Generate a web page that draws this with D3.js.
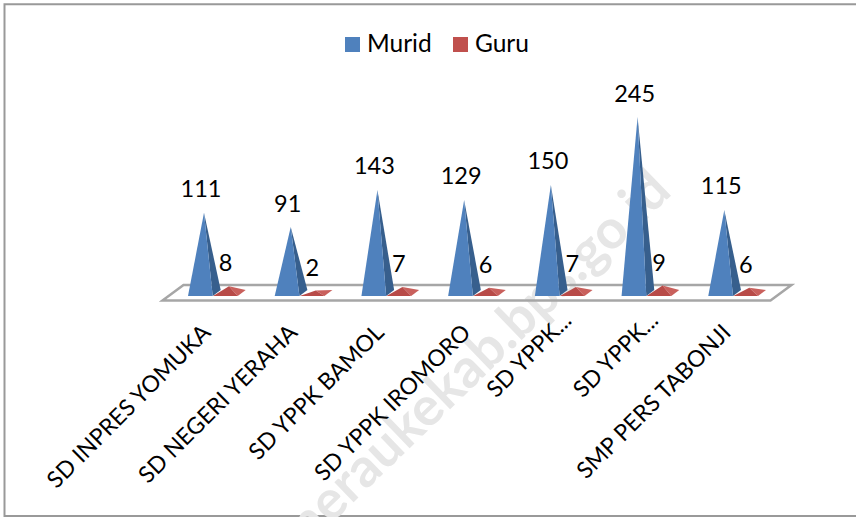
<!DOCTYPE html>
<html>
<head>
<meta charset="utf-8">
<script src="https://cdn.jsdelivr.net/npm/d3@7"></script>
<style>
body { margin: 0; background: #fff; overflow: hidden; }
text { font-family: Lato, "Open Sans", sans-serif; fill: #000; }
</style>
</head>
<body>
<div id="chart"></div>
<script>
var schools = ["SD INPRES YOMUKA", "SD NEGERI YERAHA", "SD YPPK BAMOL", "SD YPPK IROMORO", "SD YPPK...", "SD YPPK...", "SMP PERS TABONJI"];
var murid = [111, 91, 143, 129, 150, 245, 115];
var guru = [8, 2, 7, 6, 7, 9, 6];
var series_names = ["Murid", "Guru"];

var colors_front = { Murid: "#4f81bd", Guru: "#b84b48" };
var colors_side = { Murid: "#375f8d", Guru: "#c9605c" };
var colors_legend = { Murid: "#4f81bd", Guru: "#c0504d" };

var width = 856, height = 517;

var svg = d3.select("#chart").append("svg")
    .attr("width", width)
    .attr("height", height)
    .style("display", "block");

// picture frame, the right side is not visible in the source
svg.append("path")
    .attr("d", "M856,4.3H4.5V516H856")
    .attr("fill", "none")
    .attr("stroke", "#999")
    .attr("stroke-width", 2);

// watermark
svg.append("text")
    .attr("transform", "translate(298,556) rotate(-44)")
    .attr("font-size", 54)
    .attr("font-weight", "bold")
    .style("fill", "#e6e6e6")
    .text("meraukekab.bps.go.id");

var baseY = 296;

var xScale = d3.scaleBand()
    .domain(d3.range(schools.length))
    .range([167, 774]);

var yScale = d3.scaleLinear()
    .domain([0, 250])
    .range([292, 113.5]);

var line = d3.line();

// floor
svg.append("path")
    .attr("d", line([[162.5, 300.5], [183.5, 285], [791.5, 285], [770.5, 300.5]]) + "Z")
    .attr("fill", "none")
    .attr("stroke", "#a6a6a6")
    .attr("stroke-width", 2.5);

function draw_pyramid(x0, value, name) {
    var w = 24.7, dx = 8, dy = 6;
    var apex = [x0 + 16, yScale(value)];
    svg.append("path")
        .attr("d", line([[x0 + w, baseY], [x0 + w + dx, baseY - dy], apex]) + "Z")
        .attr("fill", colors_side[name]);
    svg.append("path")
        .attr("d", line([[x0, baseY], [x0 + w, baseY], apex]) + "Z")
        .attr("fill", colors_front[name]);
}

schools.forEach(function(s, i) {
    var x0 = xScale(i) + 21;
    draw_pyramid(x0 + 25, guru[i], "Guru");
    draw_pyramid(x0, murid[i], "Murid");

    svg.append("text")
        .attr("x", x0 + 13)
        .attr("y", yScale(murid[i]) - 15.5)
        .attr("text-anchor", "middle")
        .attr("font-size", 23.5)
        .text(murid[i]);

    svg.append("text")
        .attr("x", x0 + 37.5)
        .attr("y", yScale(guru[i]) - 15)
        .attr("text-anchor", "middle")
        .attr("font-size", 23.5)
        .text(guru[i]);

    // the shortened labels sit closer to the floor
    var short_label = s.slice(-3) == "...";
    svg.append("text")
        .attr("transform", "translate(" + (x0 + (short_label ? 38 : 24)) + "," + (short_label ? 322 : 334) + ") rotate(-45)")
        .attr("text-anchor", "end")
        .attr("font-size", 23)
        .text(s);
});

// legend
var legendX = d3.scalePoint().domain(series_names).range([345, 453]);
series_names.forEach(function(name) {
    svg.append("rect")
        .attr("x", legendX(name)).attr("y", 37)
        .attr("width", 15).attr("height", 15)
        .attr("fill", colors_legend[name]);
    svg.append("text")
        .attr("x", legendX(name) + 22).attr("y", 52)
        .attr("font-size", 24.5)
        .text(name);
});
</script>
</body>
</html>
